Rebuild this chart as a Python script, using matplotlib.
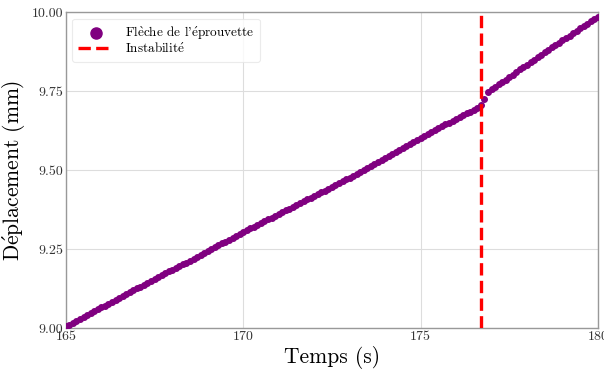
import matplotlib
matplotlib.use("Agg")
import matplotlib.pyplot as plt

# temps (s)
temps = [
    165.0, 165.1, 165.2, 165.3, 165.4, 165.5, 165.6, 165.7, 165.8, 165.9,
    166.0, 166.1, 166.2, 166.3, 166.4, 166.5, 166.6, 166.7, 166.8, 166.9,
    167.0, 167.1, 167.2, 167.3, 167.4, 167.5, 167.6, 167.7, 167.8, 167.9,
    168.0, 168.1, 168.2, 168.3, 168.4, 168.5, 168.6, 168.7, 168.8, 168.9,
    169.0, 169.1, 169.2, 169.3, 169.4, 169.5, 169.6, 169.7, 169.8, 169.9,
    170.0, 170.1, 170.2, 170.3, 170.4, 170.5, 170.6, 170.7, 170.8, 170.9,
    171.0, 171.1, 171.2, 171.3, 171.4, 171.5, 171.6, 171.7, 171.8, 171.9,
    172.0, 172.1, 172.2, 172.3, 172.4, 172.5, 172.6, 172.7, 172.8, 172.9,
    173.0, 173.1, 173.2, 173.3, 173.4, 173.5, 173.6, 173.7, 173.8, 173.9,
    174.0, 174.1, 174.2, 174.3, 174.4, 174.5, 174.6, 174.7, 174.8, 174.9,
    175.0, 175.1, 175.2, 175.3, 175.4, 175.5, 175.6, 175.7, 175.8, 175.9,
    176.0, 176.1, 176.2, 176.3, 176.4, 176.5, 176.6, 176.7, 176.8, 176.9,
    177.0, 177.1, 177.2, 177.3, 177.4, 177.5, 177.6, 177.7, 177.8, 177.9,
    178.0, 178.1, 178.2, 178.3, 178.4, 178.5, 178.6, 178.7, 178.8, 178.9,
    179.0, 179.1, 179.2, 179.3, 179.4, 179.5, 179.6, 179.7, 179.8, 179.9,
    180.0,
]

# fleche de l'eprouvette (mm)
fleche = [
    9.005, 9.011, 9.016, 9.023, 9.029, 9.035, 9.041, 9.047, 9.053, 9.059,
    9.065, 9.071, 9.076, 9.083, 9.089, 9.095, 9.101, 9.106, 9.113, 9.119,
    9.125, 9.131, 9.137, 9.143, 9.149, 9.155, 9.161, 9.167, 9.173, 9.179,
    9.185, 9.191, 9.197, 9.201, 9.207, 9.213, 9.219, 9.225, 9.231, 9.237,
    9.244, 9.250, 9.256, 9.262, 9.268, 9.273, 9.279, 9.285, 9.291, 9.298,
    9.304, 9.309, 9.315, 9.320, 9.326, 9.332, 9.338, 9.344, 9.349, 9.355,
    9.361, 9.367, 9.372, 9.378, 9.384, 9.389, 9.395, 9.401, 9.407, 9.412,
    9.418, 9.424, 9.429, 9.435, 9.441, 9.447, 9.452, 9.458, 9.464, 9.470,
    9.476, 9.482, 9.488, 9.494, 9.500, 9.506, 9.514, 9.520, 9.526, 9.532,
    9.538, 9.545, 9.551, 9.557, 9.564, 9.570, 9.576, 9.583, 9.589, 9.596,
    9.602, 9.608, 9.614, 9.620, 9.626, 9.633, 9.638, 9.644, 9.650, 9.655,
    9.660, 9.668, 9.674, 9.679, 9.685, 9.691, 9.697, 9.706, 9.724, 9.748,
    9.755, 9.763, 9.771, 9.779, 9.786, 9.794, 9.802, 9.810, 9.818, 9.825,
    9.833, 9.841, 9.848, 9.856, 9.864, 9.872, 9.880, 9.888, 9.896, 9.903,
    9.910, 9.918, 9.925, 9.933, 9.940, 9.948, 9.955, 9.962, 9.970, 9.977,
    9.985,
]

t_instab = 176.7
xticks = [165, 170, 175, 180]
yticks = [9.00, 9.25, 9.50, 9.75, 10.00]

# cmr10 has no accented letters: accents go through mathtext (cm fontset)
lab_serie = r"Fl$\grave{\mathrm{e}}$che de l'$\acute{\mathrm{e}}$prouvette"
lab_instab = r"Instabilit$\acute{\mathrm{e}}$"
lab_y = r"D$\acute{\mathrm{e}}$placement (mm)"

plt.rcParams['font.family'] = ['cmr10', 'DejaVu Serif']
plt.rcParams['axes.formatter.use_mathtext'] = True
plt.rcParams['mathtext.fontset'] = 'cm'

fig = plt.figure(figsize=(6.04, 3.74), dpi=100)
ax = fig.add_axes([0.109, 0.123, 0.881, 0.845])

ax.scatter(temps, fleche, color='purple', s=16, zorder=3, label=lab_serie)
ax.axvline(t_instab, color='red', linestyle='--', linewidth=2.4, zorder=4,
           label=lab_instab)

ax.set_xlim(165, 180)
ax.set_ylim(9.0, 10.0)
ax.set_xticks(xticks)
ax.set_yticks(yticks)
ax.set_xticklabels([str(v) for v in xticks])
ax.set_yticklabels(['%.2f' % v for v in yticks])
ax.tick_params(length=0, labelsize=10, pad=2, colors='#333333')

ax.grid(True, color='#dddddd', linewidth=0.8)
ax.set_axisbelow(True)
for sp in ax.spines.values():
    sp.set_color('#999999')
    sp.set_linewidth(1.0)

ax.set_xlabel('Temps (s)', fontsize=15.5, labelpad=2)
ax.set_ylabel(lab_y, fontsize=15.5, labelpad=3)

leg = ax.legend(loc='upper left', fontsize=9.5, markerscale=2.0,
                frameon=True, handlelength=2.6, borderpad=0.45,
                labelspacing=0.0, handletextpad=0.9)
leg.get_frame().set_edgecolor('#e6e6e6')
leg.get_frame().set_linewidth(0.8)

fig.savefig('out.png', dpi=100)
